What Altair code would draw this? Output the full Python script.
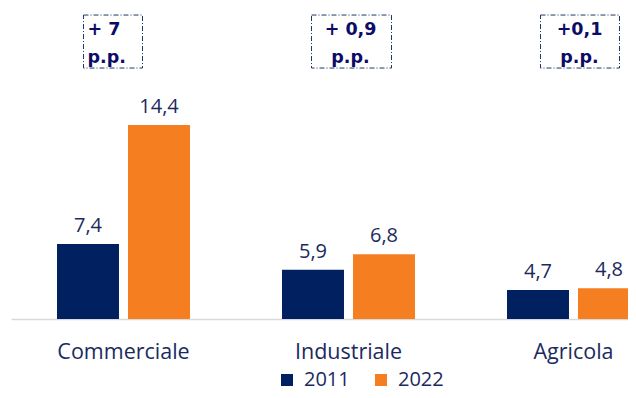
import altair as alt
import pandas as pd

categories = ["Commerciale", "Industriale", "Agricola"]
years = ["2011", "2022"]
values_2011 = [7.4, 5.9, 4.7]
values_2022 = [14.4, 6.8, 4.8]
labels_2011 = ["7,4", "5,9", "4,7"]
labels_2022 = ["14,4", "6,8", "4,8"]
deltas = ["+ 7", "+ 0,9", "+0,1"]
delta_unit = "p.p."

NAVY = "#002060"
ORANGE = "#f47e20"
TEXT = "#1b2a5e"
BOX_TEXT = "#0c0c66"
BOX_LINE = "#1f3864"
FONT = "Open Sans"
Y_MIN = 3

rows = []
for i, c in enumerate(categories):
    rows.append(dict(cat=c, year=years[0], value=values_2011[i], label=labels_2011[i]))
    rows.append(dict(cat=c, year=years[1], value=values_2022[i], label=labels_2022[i]))
df = pd.DataFrame(rows)

x_enc = alt.X(
    "cat:N",
    scale=alt.Scale(domain=categories, range=[0, 675], paddingInner=0, paddingOuter=0),
    axis=alt.Axis(
        title=None, labelAngle=0, ticks=False, domainColor="#d9d9d9", domainWidth=1.5,
        labelFont=FONT, labelFontSize=21.5, labelColor=TEXT, labelPadding=22,
    ),
)
xoff_enc = alt.XOffset("year:N", scale=alt.Scale(domain=years, paddingInner=0.127, paddingOuter=0.648))
y_enc = alt.Y("value:Q", scale=alt.Scale(domain=[Y_MIN, 21.27], zero=False, nice=False), axis=None)

bars = alt.Chart(df).mark_bar().encode(
    x=x_enc,
    xOffset=xoff_enc,
    y=y_enc,
    y2=alt.datum(Y_MIN),
    color=alt.Color(
        "year:N",
        scale=alt.Scale(domain=years, range=[NAVY, ORANGE]),
        legend=alt.Legend(
            title=None, orient="none", direction="horizontal", legendX=266, legendY=362,
            symbolType="square", symbolSize=144, symbolStrokeWidth=0, symbolOpacity=1,
            labelFont=FONT, labelFontSize=20, labelColor=TEXT, labelOffset=7,
            columnPadding=21, padding=0,
        ),
    ),
)

texts = alt.Chart(df).mark_text(
    baseline="alphabetic", dy=-12, fontSize=20, font=FONT, color=TEXT
).encode(x=x_enc, xOffset=xoff_enc, y=y_enc, text="label:N")

layers = [bars, texts]

# annotation boxes: (box path in unit coords, text align, text dx)
box_styles = [
    ("M-1,-0.6625L0.475,-0.6625L0.475,0.6625L-1,0.6625Z", "left", -36),
    ("M-0.925,-0.6625L1.075,-0.6625L1.075,0.6625L-0.925,0.6625Z", "center", 2),
    ("M-0.825,-0.6625L1.15,-0.6625L1.15,0.6625L-0.825,0.6625Z", "center", 6),
]
for i, c in enumerate(categories):
    adf = pd.DataFrame({"cat": [c], "txt": [deltas[i] + "\n" + delta_unit]})
    path, align, dx = box_styles[i]
    box = alt.Chart(adf).mark_point(
        shape=path, size=6400, filled=False, stroke=BOX_LINE, strokeWidth=1,
        strokeDash=[5, 2, 1, 2], opacity=1,
    ).encode(x=x_enc, y=alt.datum(19.30))
    txt = alt.Chart(adf).mark_text(
        baseline="alphabetic", align=align, dx=dx, lineBreak="\n", lineHeight=28,
        fontSize=17.5, fontWeight="bold", font="DejaVu Sans", color=BOX_TEXT,
    ).encode(x=x_enc, y=alt.datum(19.69), text="txt:N")
    layers += [box, txt]

chart = alt.layer(*layers).properties(
    width=617, height=311, autosize="none",
    padding={"left": 3, "top": 0, "right": 0, "bottom": 71},
).configure_view(stroke=None)

chart.save("out.html", embed_options={"renderer": "svg", "actions": False})
